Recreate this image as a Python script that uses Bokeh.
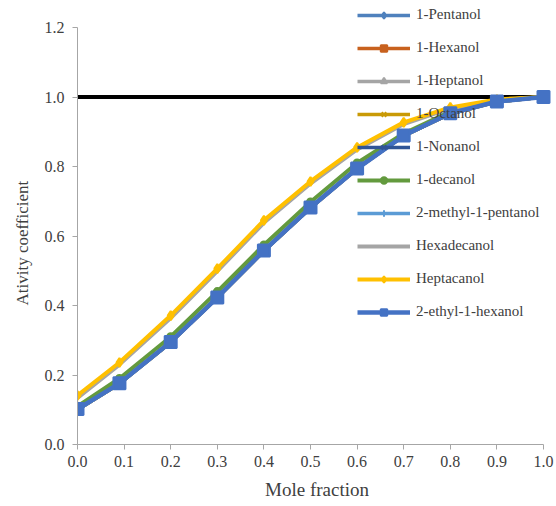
from bokeh.plotting import figure
from bokeh.models import Range1d, Legend, LegendItem, FixedTicker, CustomJSTickFormatter, Title
from bokeh.embed import file_html
from bokeh.resources import INLINE

# ---- data ----
mole_fraction = [0.0, 0.09, 0.2, 0.3, 0.4, 0.5, 0.6, 0.7, 0.8, 0.9, 1.0]

pentanol       = [0.100, 0.175, 0.294, 0.422, 0.557, 0.681, 0.794, 0.888, 0.952, 0.986, 1.0]
hexanol        = [0.100, 0.175, 0.294, 0.422, 0.557, 0.681, 0.794, 0.888, 0.952, 0.986, 1.0]
heptanol       = [0.102, 0.177, 0.296, 0.424, 0.559, 0.683, 0.796, 0.889, 0.953, 0.987, 1.0]
octanol        = [0.100, 0.175, 0.294, 0.422, 0.557, 0.681, 0.794, 0.888, 0.952, 0.986, 1.0]
nonanol        = [0.101, 0.176, 0.295, 0.423, 0.558, 0.682, 0.795, 0.889, 0.953, 0.987, 1.0]
decanol        = [0.110, 0.190, 0.310, 0.440, 0.574, 0.698, 0.810, 0.895, 0.958, 0.990, 1.0]
methylpentanol = [0.100, 0.175, 0.294, 0.422, 0.557, 0.681, 0.794, 0.888, 0.952, 0.986, 1.0]
hexadecanol    = [0.134, 0.230, 0.364, 0.499, 0.638, 0.751, 0.849, 0.922, 0.967, 0.991, 1.0]
heptacanol     = [0.141, 0.236, 0.371, 0.506, 0.645, 0.757, 0.855, 0.927, 0.970, 0.993, 1.0]
ethylhexanol   = [0.102, 0.176, 0.295, 0.423, 0.558, 0.682, 0.794, 0.889, 0.953, 0.987, 1.0]

ideal_x = [0.0, 1.0]
ideal_y = [1.0, 1.0]

labels = ["1-Pentanol", "1-Hexanol", "1-Heptanol", "1-Octanol", "1-Nonanol",
          "1-decanol", "2-methyl-1-pentanol", "Hexadecanol", "Heptacanol",
          "2-ethyl-1-hexanol"]
series = [pentanol, hexanol, heptanol, octanol, nonanol, decanol,
          methylpentanol, hexadecanol, heptacanol, ethylhexanol]
colors = ["#4F81BD", "#C8611E", "#A5A5A5", "#C99A06", "#2F5597",
          "#639A3E", "#5B9BD5", "#A5A5A5", "#FFC000", "#4472C4"]
markers = ["diamond", "square", "triangle", "x", "x",
           "circle", "cross", None, "diamond", "square"]
msizes = [7, 7, 8, 9, 9, 7, 10, 0, 9, 12]
lwidths = [3.5, 3.5, 3.5, 3.5, 3.5, 4, 3.5, 4, 4, 4.5]

x_ticks = [0.0, 0.1, 0.2, 0.3, 0.4, 0.5, 0.6, 0.7, 0.8, 0.9, 1.0]
y_ticks = [0.0, 0.2, 0.4, 0.6, 0.8, 1.0, 1.2]

FONT = "Liberation Serif"
TXT = "#404040"
AX = "#A6A6A6"

W, H = 556, 506
LEFT, TOP, BOTTOM = 77, 27, 62
PX_PER_UNIT = 466
PX_PER_Y = 417 / 1.2
p = figure(width=W, height=H, output_backend="svg", toolbar_location=None,
           x_range=Range1d(0, (W - LEFT) / PX_PER_UNIT),
           y_range=Range1d(0, 1.2 + TOP / PX_PER_Y),
           min_border_left=LEFT, min_border_right=0, min_border_top=0,
           min_border_bottom=BOTTOM)
p.outline_line_color = None
p.grid.visible = False
p.background_fill_color = "white"

# axes
fmt = CustomJSTickFormatter(code="return tick.toFixed(1);")
p.xaxis.ticker = FixedTicker(ticks=x_ticks)
p.yaxis.ticker = FixedTicker(ticks=y_ticks)
p.xaxis.bounds = (0, 1)
p.yaxis.bounds = (0, 1.2)
p.xaxis.formatter = fmt
p.yaxis.formatter = fmt
for ax in (p.xaxis, p.yaxis):
    ax.axis_line_color = AX
    ax.axis_line_width = 1
    ax.major_tick_line_color = AX
    ax.major_tick_out = 5
    ax.major_tick_in = 0
    ax.minor_tick_line_color = None
    ax.major_label_text_font = FONT
    ax.major_label_text_font_size = "16px"
    ax.major_label_text_color = TXT
    ax.axis_label_text_font = FONT
    ax.axis_label_text_font_style = "normal"
    ax.axis_label_text_color = TXT
p.xaxis.axis_label = "Mole fraction"
p.xaxis.axis_label_text_font_size = "19px"
p.xaxis.major_label_standoff = 6
p.yaxis.major_label_standoff = 8
p.xaxis.axis_label_standoff = 9

# y-axis title as a side-panel Title so it can be positioned along the axis
ytitle = Title(text="Ativity coefficient", align="left", offset=444 - 305,
               vertical_align="middle", text_font=FONT, text_font_size="17px",
               text_font_style="normal", text_color=TXT, standoff=18)
p.add_layout(ytitle, "left")

# reference line
p.line(ideal_x, ideal_y, line_color="black", line_width=4)

items = []
for lab, ys, c, m, ms, lw in zip(labels, series, colors, markers, msizes, lwidths):
    rs = [p.line(mole_fraction, ys, line_color=c, line_width=lw)]
    if m is not None:
        rs.append(p.scatter(mole_fraction, ys, marker=m, size=ms,
                            fill_color=c, line_color=c, line_width=2))
    items.append(LegendItem(label=lab, renderers=rs))

legend = Legend(items=items, location=(357 - LEFT, 124),
                label_text_font=FONT, label_text_font_size="15px",
                label_text_color=TXT, label_height=16, glyph_height=16,
                glyph_width=53, spacing=16, label_standoff=6, padding=0,
                margin=0, border_line_alpha=0, background_fill_alpha=0)
p.add_layout(legend)

open("out.html", "w").write(file_html(p, INLINE))
